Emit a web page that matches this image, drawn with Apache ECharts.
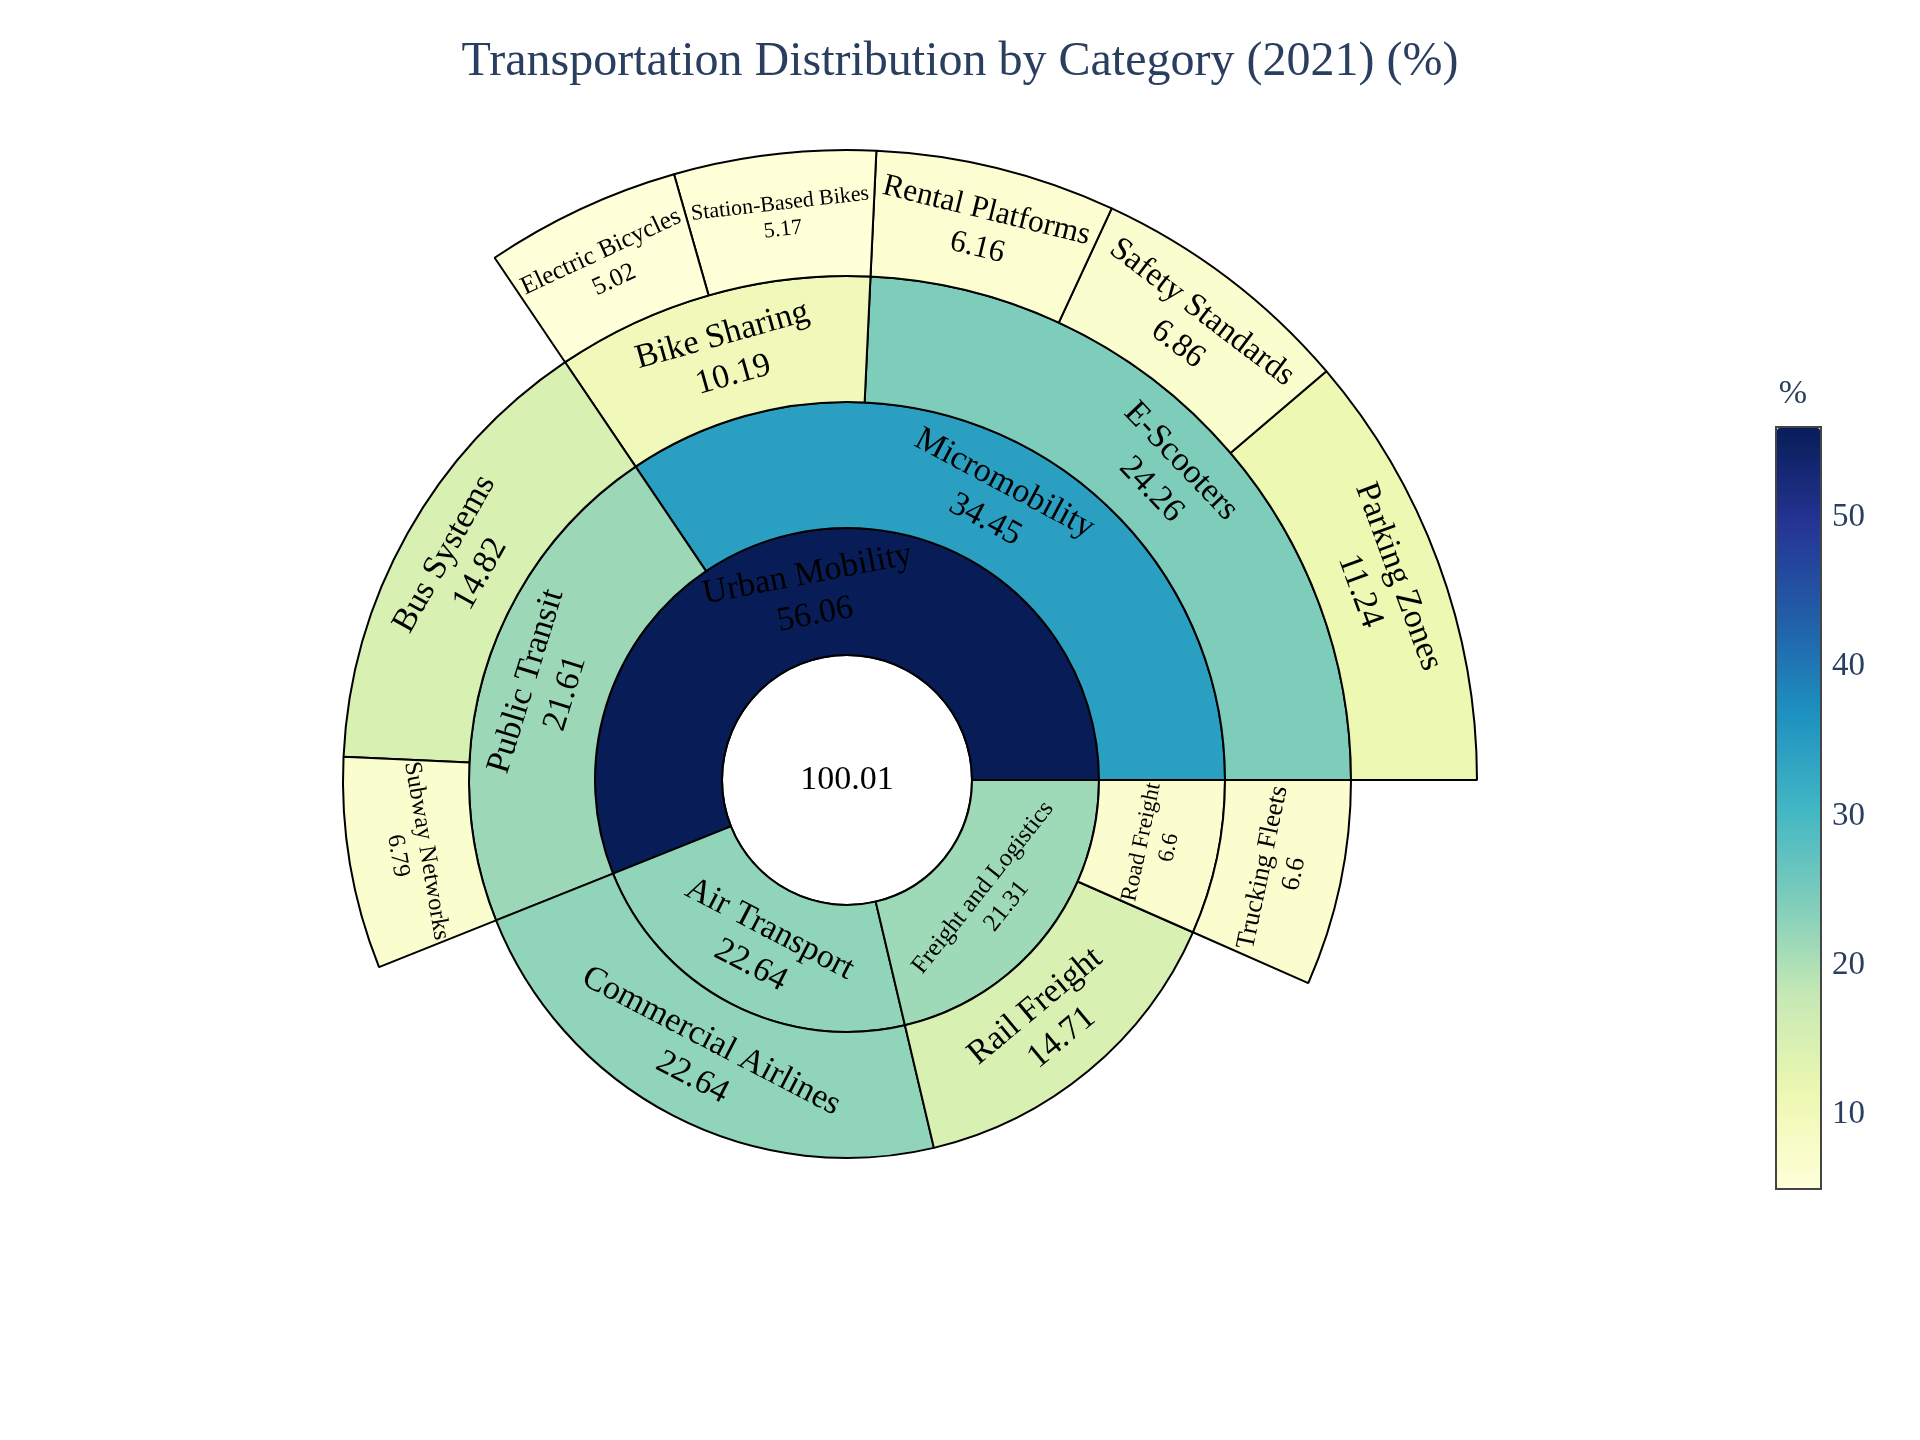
<!DOCTYPE html>
<html>
<head>
<meta charset="utf-8">
<script src="https://cdn.jsdelivr.net/npm/echarts@6/dist/echarts.min.js"></script>
<style>
html,body{margin:0;padding:0;background:#ffffff;}
#chart{width:1920px;height:1440px;}
</style>
</head>
<body>
<div id="chart"></div>
<script>
// ---- data ----
const nodeNames = [
  'Total',
  'Urban Mobility', 'Air Transport', 'Freight and Logistics',
  'Micromobility', 'Public Transit', 'Commercial Airlines', 'Rail Freight', 'Road Freight',
  'E-Scooters', 'Bike Sharing', 'Bus Systems', 'Subway Networks', 'Trucking Fleets',
  'Parking Zones', 'Safety Standards', 'Rental Platforms', 'Station-Based Bikes', 'Electric Bicycles'
];
const nodeParents = [
  null,
  'Total', 'Total', 'Total',
  'Urban Mobility', 'Urban Mobility', 'Air Transport', 'Freight and Logistics', 'Freight and Logistics',
  'Micromobility', 'Micromobility', 'Public Transit', 'Public Transit', 'Road Freight',
  'E-Scooters', 'E-Scooters', 'E-Scooters', 'Bike Sharing', 'Bike Sharing'
];
const nodeValues = [
  100.01,
  56.06, 22.64, 21.31,
  34.45, 21.61, 22.64, 14.71, 6.6,
  24.26, 10.19, 14.82, 6.79, 6.6,
  11.24, 6.86, 6.16, 5.17, 5.02
];
const colorbarTicks = [10, 20, 30, 40, 50];
const colorbarTitle = '%';
const chartTitle = 'Transportation Distribution by Category (2021) (%)';

// ---- styles ----
const ylgnbu = ['#ffffd9', '#edf8b1', '#c7e9b4', '#7fcdbb', '#41b6c4', '#1d91c0', '#225ea8', '#253494', '#081d58'];
const labelSizes = {
  'Total': 34,
  'Freight and Logistics': 25,
  'Road Freight': 23,
  'Subway Networks': 24.5,
  'Trucking Fleets': 26.5,
  'Safety Standards': 33,
  'Rental Platforms': 31.5,
  'Station-Based Bikes': 22,
  'Electric Bicycles': 25.5
};
const FONT = '"Liberation Serif", "Times New Roman", serif';
const RINGS = [0, 125, 252, 378, 504, 630];

function fmt(v) { return String(Math.round(v * 100) / 100); }

const nonRoot = nodeValues.filter(function (v, i) { return nodeParents[i] !== null; });
const cmin = Math.min.apply(null, nonRoot);
const cmax = Math.max.apply(null, nonRoot);

function colorOf(v) {
  const t = Math.max(0, Math.min(1, (v - cmin) / (cmax - cmin)));
  return echarts.color.lerp(t, ylgnbu);
}

function build(parent) {
  const out = [];
  nodeNames.forEach(function (n, i) {
    if (nodeParents[i] === parent) {
      const fs = labelSizes[n] || 34;
      const item = {
        name: n,
        value: nodeValues[i],
        itemStyle: { color: parent === null ? '#ffffff' : colorOf(nodeValues[i]) },
        label: { fontSize: fs, lineHeight: Math.round(fs * 1.2) }
      };
      const ch = build(n);
      if (ch.length) item.children = ch;
      out.push(item);
    }
  });
  return out;
}

const chart = echarts.init(document.getElementById('chart'), null, { renderer: 'canvas' });
chart.setOption({
  backgroundColor: '#ffffff',
  animation: false,
  title: {
    text: chartTitle,
    left: 'center',
    top: 33,
    textStyle: { fontFamily: FONT, fontSize: 48, fontWeight: 'normal', color: '#2a3f5f' }
  },
  grid: {
    left: 1776, top: 427, width: 45, height: 762,
    show: true, borderColor: '#444444', borderWidth: 2, backgroundColor: 'transparent'
  },
  xAxis: { type: 'value', show: false, min: 0, max: 1 },
  yAxis: {
    type: 'value',
    position: 'right',
    min: cmin,
    max: cmax,
    axisLine: { show: false },
    axisTick: { show: false },
    splitLine: { show: false },
    axisLabel: {
      customValues: colorbarTicks,
      fontFamily: FONT, fontSize: 33, color: '#2a3f5f', margin: 11
    },
    name: colorbarTitle,
    nameLocation: 'end',
    nameGap: 16,
    nameTextStyle: { fontFamily: FONT, fontSize: 34, color: '#2a3f5f', align: 'center', padding: [0, 0, 0, 34] }
  },
  visualMap: {
    type: 'continuous',
    seriesIndex: 1,
    min: cmin,
    max: cmax,
    calculable: false,
    left: 1777,
    top: 428,
    itemWidth: 43,
    itemHeight: 760,
    padding: 0,
    inRange: { color: ylgnbu }
  },
  series: [{
    type: 'sunburst',
    center: [847, 780],
    startAngle: 0,
    clockwise: false,
    sort: null,
    nodeClick: false,
    data: build(null),
    itemStyle: { borderColor: '#000000', borderWidth: 2 },
    label: {
      rotate: 'tangential',
      color: '#000000',
      fontFamily: FONT,
      align: 'center',
      formatter: function (p) { return p.name + '\n' + fmt(p.value); }
    },
    emphasis: { disabled: true },
    levels: [
      {},
      { r0: RINGS[0], r: RINGS[1], label: { rotate: 0, padding: [0, 0, 0, RINGS[1]], formatter: function (p) { return fmt(p.value); } } },
      { r0: RINGS[1], r: RINGS[2] },
      { r0: RINGS[2], r: RINGS[3] },
      { r0: RINGS[3], r: RINGS[4] },
      { r0: RINGS[4], r: RINGS[5] }
    ]
  }, {
    type: 'line',
    xAxisIndex: 0,
    yAxisIndex: 0,
    data: [],
    silent: true
  }]
});
</script>
</body>
</html>
